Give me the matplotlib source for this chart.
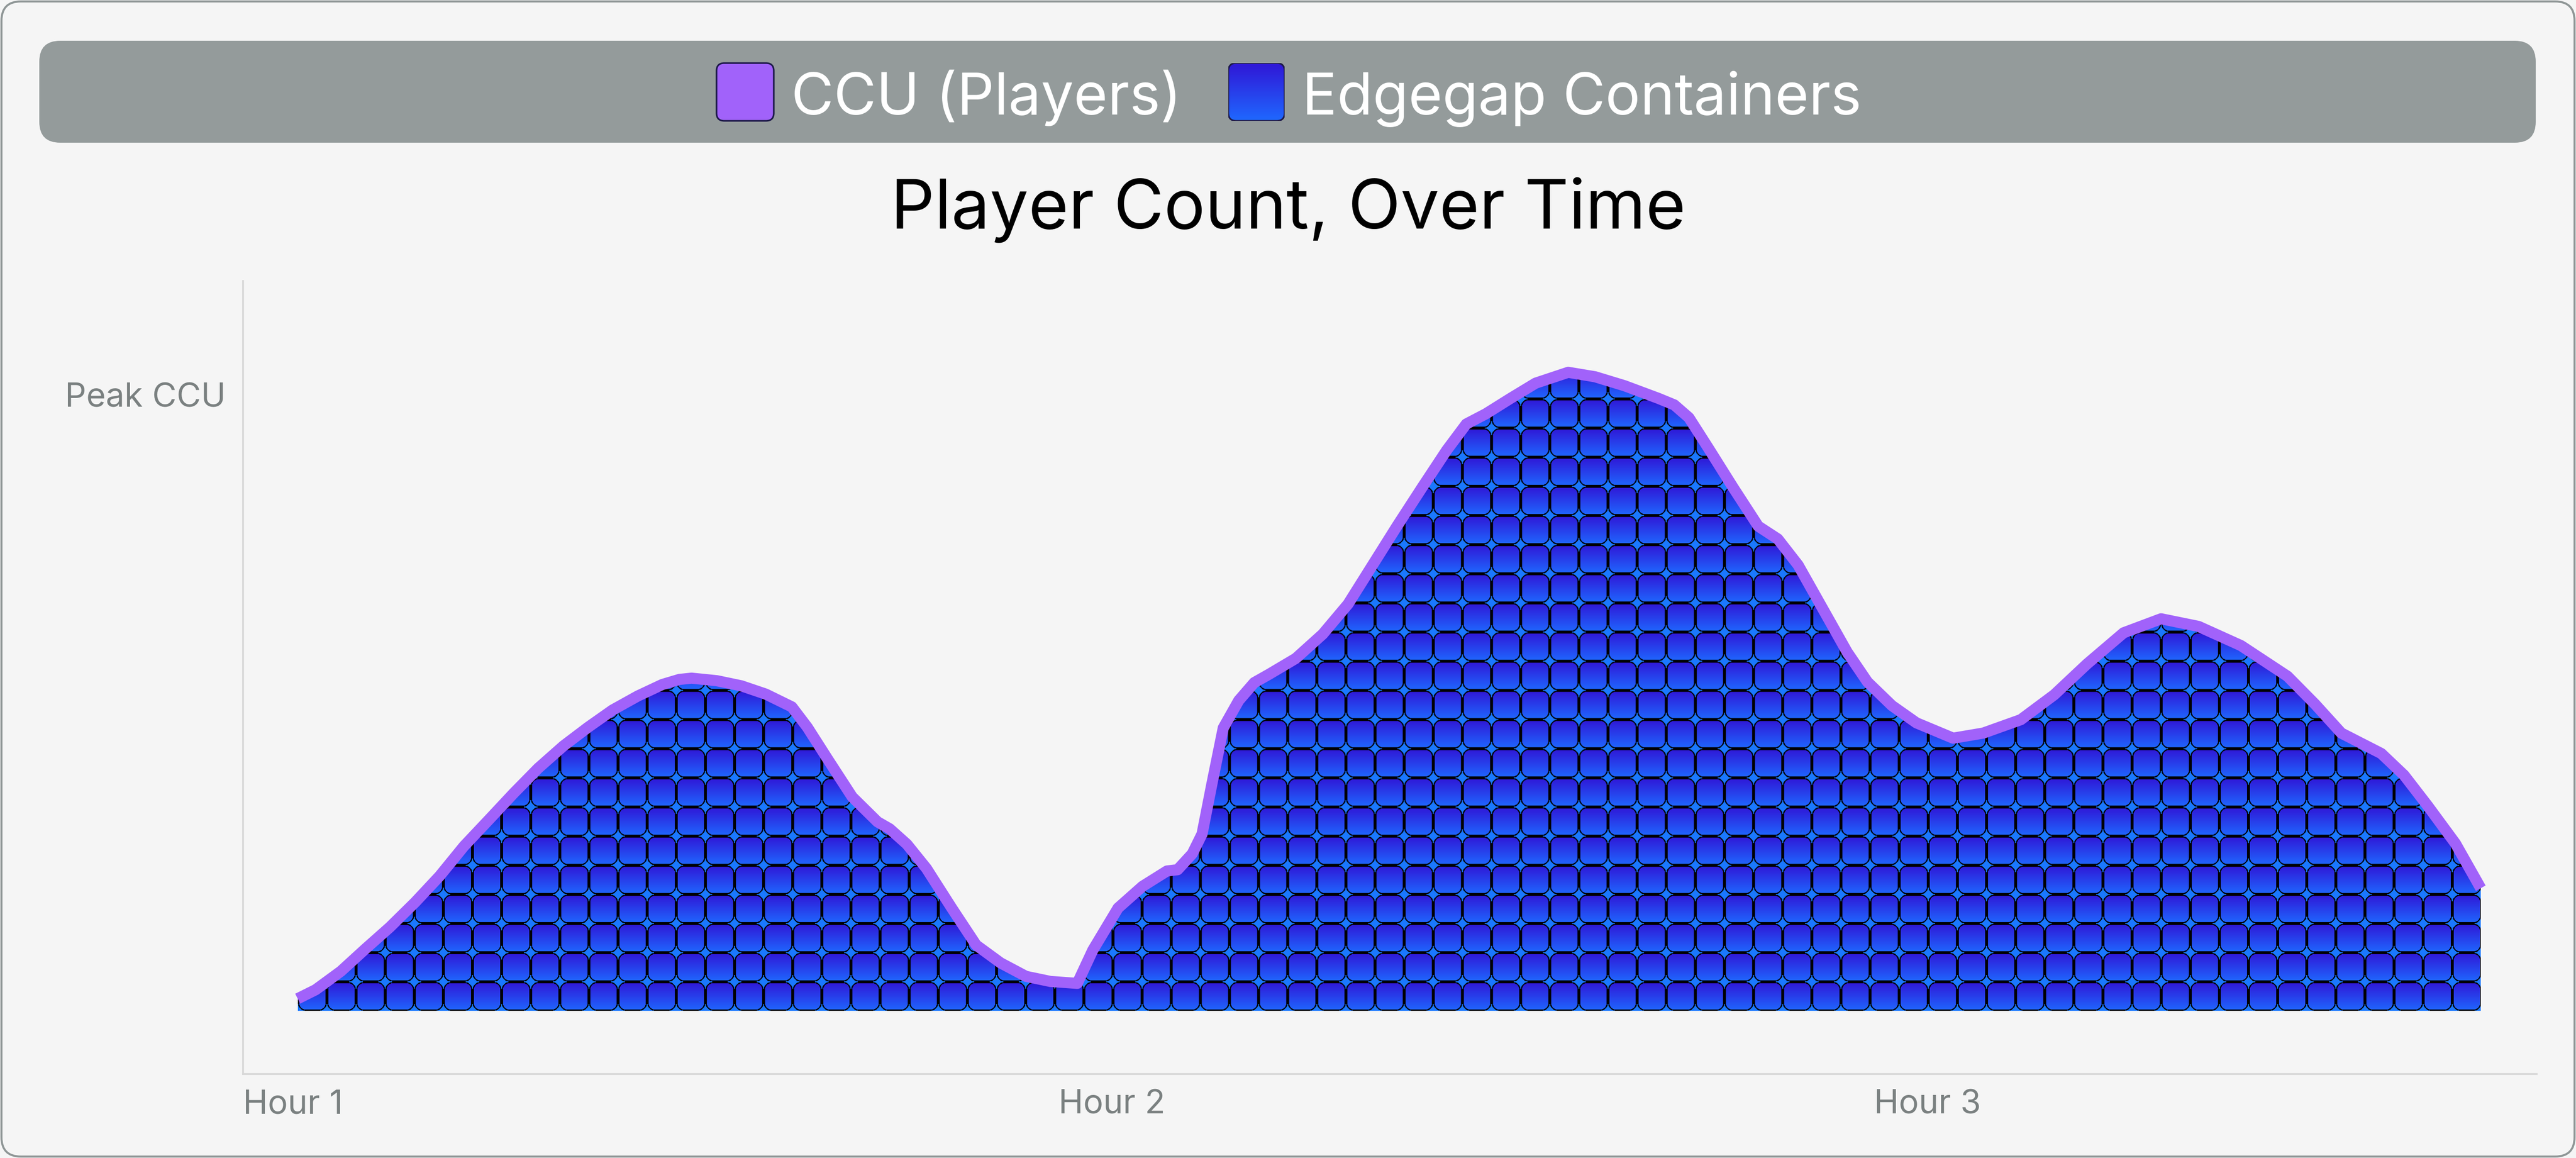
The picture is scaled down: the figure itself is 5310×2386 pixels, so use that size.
import numpy as np
import matplotlib
matplotlib.use("Agg")
import matplotlib.pyplot as plt
from matplotlib.patches import FancyBboxPatch, Polygon
from matplotlib.transforms import IdentityTransform

# player count (x in hours, y in % of peak)
hours = [1.067, 1.089, 1.120, 1.150, 1.180, 1.211, 1.241, 1.271, 1.302, 1.332,
         1.362, 1.393, 1.423, 1.453, 1.484, 1.514, 1.535, 1.550, 1.581, 1.611,
         1.641, 1.673, 1.692, 1.717, 1.747, 1.778, 1.793, 1.814, 1.838, 1.869,
         1.899, 1.929, 1.960, 1.990, 2.023, 2.042, 2.073, 2.103, 2.133, 2.146,
         2.164, 2.176, 2.188, 2.202, 2.221, 2.240, 2.258, 2.291, 2.324, 2.355,
         2.385, 2.415, 2.446, 2.476, 2.500, 2.524, 2.554, 2.585, 2.625, 2.658,
         2.694, 2.736, 2.755, 2.773, 2.797, 2.827, 2.858, 2.882, 2.907, 2.937,
         2.967, 2.992, 3.022, 3.052, 3.097, 3.134, 3.180, 3.221, 3.261, 3.306,
         3.352, 3.398, 3.450, 3.507, 3.541, 3.573, 3.622, 3.650, 3.679, 3.713,
         3.744]
ccu = [1.9, 3.3, 6.2, 9.7, 13.1, 17.0, 21.1, 25.8, 30.0, 34.1,
       38.0, 41.5, 44.4, 47.1, 49.3, 51.1, 51.9, 52.1, 51.7, 50.9,
       49.6, 47.6, 44.4, 39.4, 33.5, 29.6, 28.5, 26.1, 22.3, 16.1,
       10.3, 7.5, 5.4, 4.6, 4.3, 9.5, 16.1, 19.5, 21.9, 22.1,
       24.6, 27.7, 35.5, 44.3, 48.6, 51.4, 52.7, 55.2, 59.0, 63.7,
       69.8, 75.9, 82.0, 87.8, 91.9, 93.5, 95.9, 98.3, 100.0, 99.3,
       97.9, 95.9, 94.9, 92.9, 88.1, 82.0, 75.9, 73.9, 69.8, 63.0,
       56.2, 51.5, 47.8, 45.1, 42.7, 43.5, 45.6, 49.5, 54.3, 59.2,
       61.4, 60.2, 57.2, 52.4, 48.0, 43.5, 40.3, 36.9, 32.1, 26.2,
       19.2]

xticks = [1, 2, 3]
xtick_labels = ["Hour 1", "Hour 2", "Hour 3"]
peak_tick = 96.5
n_cols = 75  # container tiles across

FONT = ["Inter", "DejaVu Sans"]
W, H, DPI = 5310, 2386, 300
BG = "#f5f5f5"
PURPLE = "#a162fa"
TILE_TOP = np.array([0x30, 0x16, 0xd6]) / 255
TILE_BOT = np.array([0x1f, 0x68, 0xff]) / 255
TILE_GAP = np.array([0x1a, 0x78, 0xff]) / 255
GREY_TXT = "#7a8080"

plt.rcParams["font.family"] = FONT

fig = plt.figure(figsize=(W / DPI, H / DPI), dpi=DPI)
fig.patch.set_facecolor(BG)

# outer card
card = FancyBboxPatch((3, 3), W - 6, H - 6, boxstyle="round,pad=0,rounding_size=40",
                      transform=IdentityTransform(), facecolor=BG,
                      edgecolor="#8f9696", linewidth=1.0, zorder=0)
fig.add_artist(card)

# legend bar
bar = FancyBboxPatch((81, H - 294), 5227 - 81, 210, boxstyle="round,pad=0,rounding_size=43",
                     transform=IdentityTransform(), facecolor="#949b9b",
                     edgecolor="none", zorder=1)
fig.add_artist(bar)

sw1 = FancyBboxPatch((1477, H - 249), 118, 119, boxstyle="round,pad=0,rounding_size=16",
                     transform=IdentityTransform(), facecolor=PURPLE,
                     edgecolor="#1e1a4a", linewidth=0.8, zorder=2)
fig.add_artist(sw1)

# gradient swatch for containers
sax = fig.add_axes([2532 / W, (H - 249) / H, 116 / W, 119 / H])
sax.set_zorder(5)
sax.set_axis_off()
grad = np.linspace(0, 1, 100)[:, None, None] * (TILE_BOT - TILE_TOP) + TILE_TOP
grad = np.repeat(grad, 2, axis=1)
gim = sax.imshow(grad, extent=(0, 1, 0, 1), aspect="auto", interpolation="bilinear")
sclip = FancyBboxPatch((0, 0), 1, 1, boxstyle="round,pad=0,rounding_size=0.14",
                       transform=sax.transAxes, facecolor="none",
                       edgecolor="#1e1a4a", linewidth=0.8)
sax.add_patch(sclip)
gim.set_clip_path(sclip)
sax.set_xlim(0, 1)
sax.set_ylim(0, 1)

fig.text(1631 / W, (H - 236) / H, "CCU (Players)", color="white", fontsize=28.8,
         ha="left", va="baseline")
fig.text(2684 / W, (H - 236) / H, "Edgegap Containers", color="white", fontsize=28.8,
         ha="left", va="baseline")

fig.text(0.5, (H - 470) / H, "Player Count, Over Time", color="black", fontsize=34,
         ha="center", va="baseline")

# main axes
ax = fig.add_axes([501 / W, (H - 2213) / H, (5229 - 501) / W, (2213 - 579) / H])
ax.set_facecolor("none")
ax.set_xlim(1, 1 + (5229 - 501) / 1681)
ax.set_ylim(-9.9, 114.3)
for s in ["top", "right"]:
    ax.spines[s].set_visible(False)
for s in ["left", "bottom"]:
    ax.spines[s].set_color("#d8d8d8")
    ax.spines[s].set_linewidth(0.9)

ax.set_xticks(xticks)
ax.set_xticklabels(xtick_labels, ha="left", color=GREY_TXT, fontsize=16.5)
ax.set_yticks([peak_tick])
ax.set_yticklabels(["Peak CCU"], color=GREY_TXT, fontsize=16.5)
ax.tick_params(axis="x", length=0, pad=7.5)
ax.tick_params(axis="y", length=0, pad=8.5)

# tile image clipped by the area under the curve
x0, x1 = hours[0], hours[-1]
p0 = ax.transData.transform((x0, 0))
p1 = ax.transData.transform((x1, 0))
py1 = ax.transData.transform((x0, 1))
tile_px = (p1[0] - p0[0]) / n_cols
tile_dy = tile_px / (py1[1] - p0[1])
n_rows = int(np.ceil(max(ccu) / tile_dy)) + 1

S = 60
u = (np.arange(n_cols * S) % S + 0.5)[None, :]
v = (np.arange(n_rows * S) % S + 0.5)[:, None]
c = S / 2
half = S / 2 - 1.5
r = 15
qx = np.abs(u - c) - (half - r)
qy = np.abs(v - c) - (half - r)
d = np.hypot(np.maximum(qx, 0), np.maximum(qy, 0)) + np.minimum(np.maximum(qx, qy), 0) - r
t = (v / S)[..., None]
img = TILE_TOP * (1 - t) + TILE_BOT * t
img = np.broadcast_to(img, (n_rows * S, n_cols * S, 3)).copy()
img[d > 1.2] = TILE_GAP
img[np.abs(d) <= 1.2] = 0.0

im = ax.imshow(img, extent=(x0, x1, 0, n_rows * tile_dy), aspect="auto",
               interpolation="antialiased", zorder=2)
area = Polygon([(x0, 0)] + list(zip(hours, ccu)) + [(x1, 0)], closed=True,
               transform=ax.transData)
im.set_clip_path(area)
ax.set_xlim(1, 1 + (5229 - 501) / 1681)
ax.set_ylim(-9.9, 114.3)

ax.plot(hours, ccu, color=PURPLE, linewidth=5.5, solid_capstyle="butt",
        solid_joinstyle="round", zorder=3)

fig.savefig("out.png", dpi=DPI, facecolor=BG)
